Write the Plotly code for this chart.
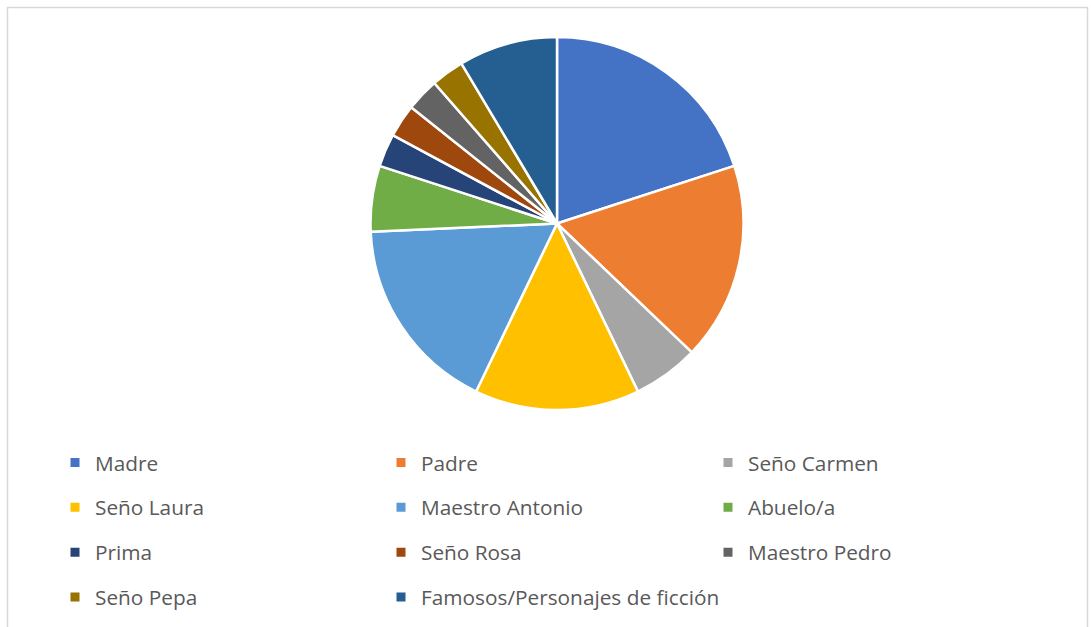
import plotly.graph_objects as go

categories = ["Madre", "Padre", "Seño Carmen", "Seño Laura", "Maestro Antonio",
              "Abuelo/a", "Prima", "Seño Rosa", "Maestro Pedro", "Seño Pepa",
              "Famosos/Personajes de ficción"]
values = [7, 6, 2, 5, 6, 2, 1, 1, 1, 1, 3]
colors = ["#4472C4", "#ED7D31", "#A5A5A5", "#FFC000", "#5B9BD5", "#70AD47",
          "#264478", "#9E480E", "#636363", "#997300", "#255E91"]

W, H = 1091, 627
cx, cy, r = 557, 223.5, 186.5

fig = go.Figure()
fig.add_trace(go.Pie(
    labels=categories, values=values, sort=False, direction="clockwise",
    rotation=0, textinfo="none", hoverinfo="label+value+percent",
    marker=dict(colors=colors, line=dict(color="white", width=2.5)),
    domain=dict(x=[(cx - r) / W, (cx + r) / W],
                y=[(H - cy - r) / H, (H - cy + r) / H]),
    showlegend=False,
))

# legend entries in three columns (Excel-like layout)
col_x = [55, 381, 708]
legend_names = ["legend", "legend2", "legend3"]
for i, (name, col) in enumerate(zip(categories, colors)):
    fig.add_trace(go.Scatter(
        x=[None], y=[None], mode="markers", name=name,
        marker=dict(symbol="square", size=9, color=col),
        legend=legend_names[i % 3], legendgroup=name, showlegend=True,
        hoverinfo="skip",
    ))

font = dict(family="Open Sans, Lato, sans-serif", size=20.8, color="#595959")
leg_common = dict(orientation="v", yanchor="top", xanchor="left",
                  bgcolor="rgba(0,0,0,0)", borderwidth=0, font=font,
                  tracegroupgap=14.8, itemclick=False, itemdoubleclick=False)
layout_legends = {}
for k, lname in enumerate(legend_names):
    layout_legends[lname] = dict(x=col_x[k] / W, y=1 - 442.5 / H, **leg_common)

fig.update_layout(
    width=W, height=H,
    margin=dict(l=0, r=0, t=0, b=0),
    paper_bgcolor="white", plot_bgcolor="white",
    xaxis=dict(visible=False), yaxis=dict(visible=False),
    shapes=[dict(type="rect", xref="paper", yref="paper",
                 x0=7.5 / W, x1=1087.5 / W, y0=-0.05, y1=1 - 7.5 / H,
                 line=dict(color="#D9D9D9", width=1.5), fillcolor="rgba(0,0,0,0)",
                 layer="below")],
    **layout_legends,
)

fig.write_html("out.html", config={"displayModeBar": False},
               post_script="document.body.style.margin='0';")
